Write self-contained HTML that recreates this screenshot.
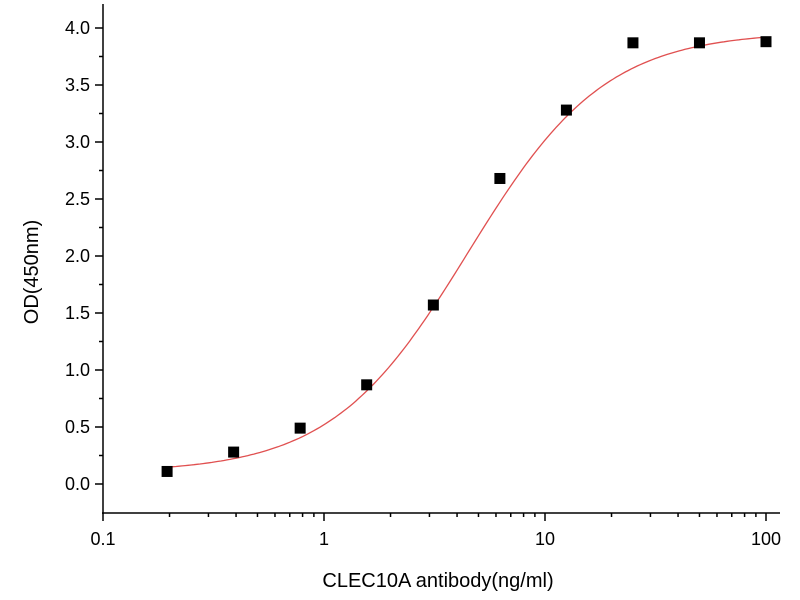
<!DOCTYPE html>
<html><head><style>body{margin:0;background:#fff}svg{display:block}text{font-family:"Liberation Sans",Arial,sans-serif;fill:#000}</style></head>
<body>
<svg id="s" width="800" height="600" xmlns="http://www.w3.org/2000/svg">
<g stroke="#000" stroke-width="1.5" fill="none" id="ax">
<line x1="103" y1="4" x2="103" y2="514"/>
<line x1="102" y1="513" x2="780" y2="513"/>
</g>
<g font-size="18" text-anchor="end" id="yl"></g>
<g font-size="18" text-anchor="middle" id="xl"></g>
<text x="438" y="587" font-size="20" text-anchor="middle">CLEC10A antibody(ng/ml)</text>
<text transform="translate(38,272) rotate(-90)" font-size="20" text-anchor="middle">OD(450nm)</text>
<path id="c" fill="none" stroke="#e05050" stroke-width="1.3"/>
<g id="p" fill="#000"></g>
</svg>
<script>
var NS="http://www.w3.org/2000/svg";
function X(v){return 103+221*(Math.log10(v)+1);}
function Y(v){return 484-114*v;}
function el(t,a,p,txt){var e=document.createElementNS(NS,t);for(var k in a)e.setAttribute(k,a[k]);if(txt)e.textContent=txt;document.getElementById(p).appendChild(e);}
for(var i=0;i<=16;i++){var v=i*0.25,y=Y(v),maj=i%2==0;
el("line",{x1:maj?95:99,y1:y,x2:103,y2:y},"ax");
if(maj)el("text",{x:90,y:y+6},"yl",v.toFixed(1));}
for(var d=-1;d<2;d++)for(var m=1;m<10;m++){var x=X(m*Math.pow(10,d));el("line",{x1:x,y1:513,x2:x,y2:m==1?521:517},"ax");}
el("line",{x1:X(100),y1:513,x2:X(100),y2:521},"ax");
[["0.1",0.1],["1",1],["10",10],["100",100]].forEach(function(a){el("text",{x:X(a[1]),y:545},"xl",a[0]);});
var d="";for(var i=0;i<=200;i++){var lx=Math.log10(0.195)+i*(2-Math.log10(0.195))/200,v=Math.pow(10,lx);
var yv=0.1+3.87/(1+Math.pow(4.5/v,1.4));d+=(i?"L":"M")+X(v).toFixed(1)+" "+Y(yv).toFixed(1);}
document.getElementById("c").setAttribute("d",d);
[[0.195,0.11],[0.39,0.28],[0.78,0.49],[1.56,0.87],[3.125,1.57],[6.25,2.68],[12.5,3.28],[25,3.87],[50,3.87],[100,3.88]].forEach(function(p){
el("rect",{x:X(p[0])-5.5,y:Y(p[1])-5.5,width:11,height:11},"p");});
</script>
</body></html>
